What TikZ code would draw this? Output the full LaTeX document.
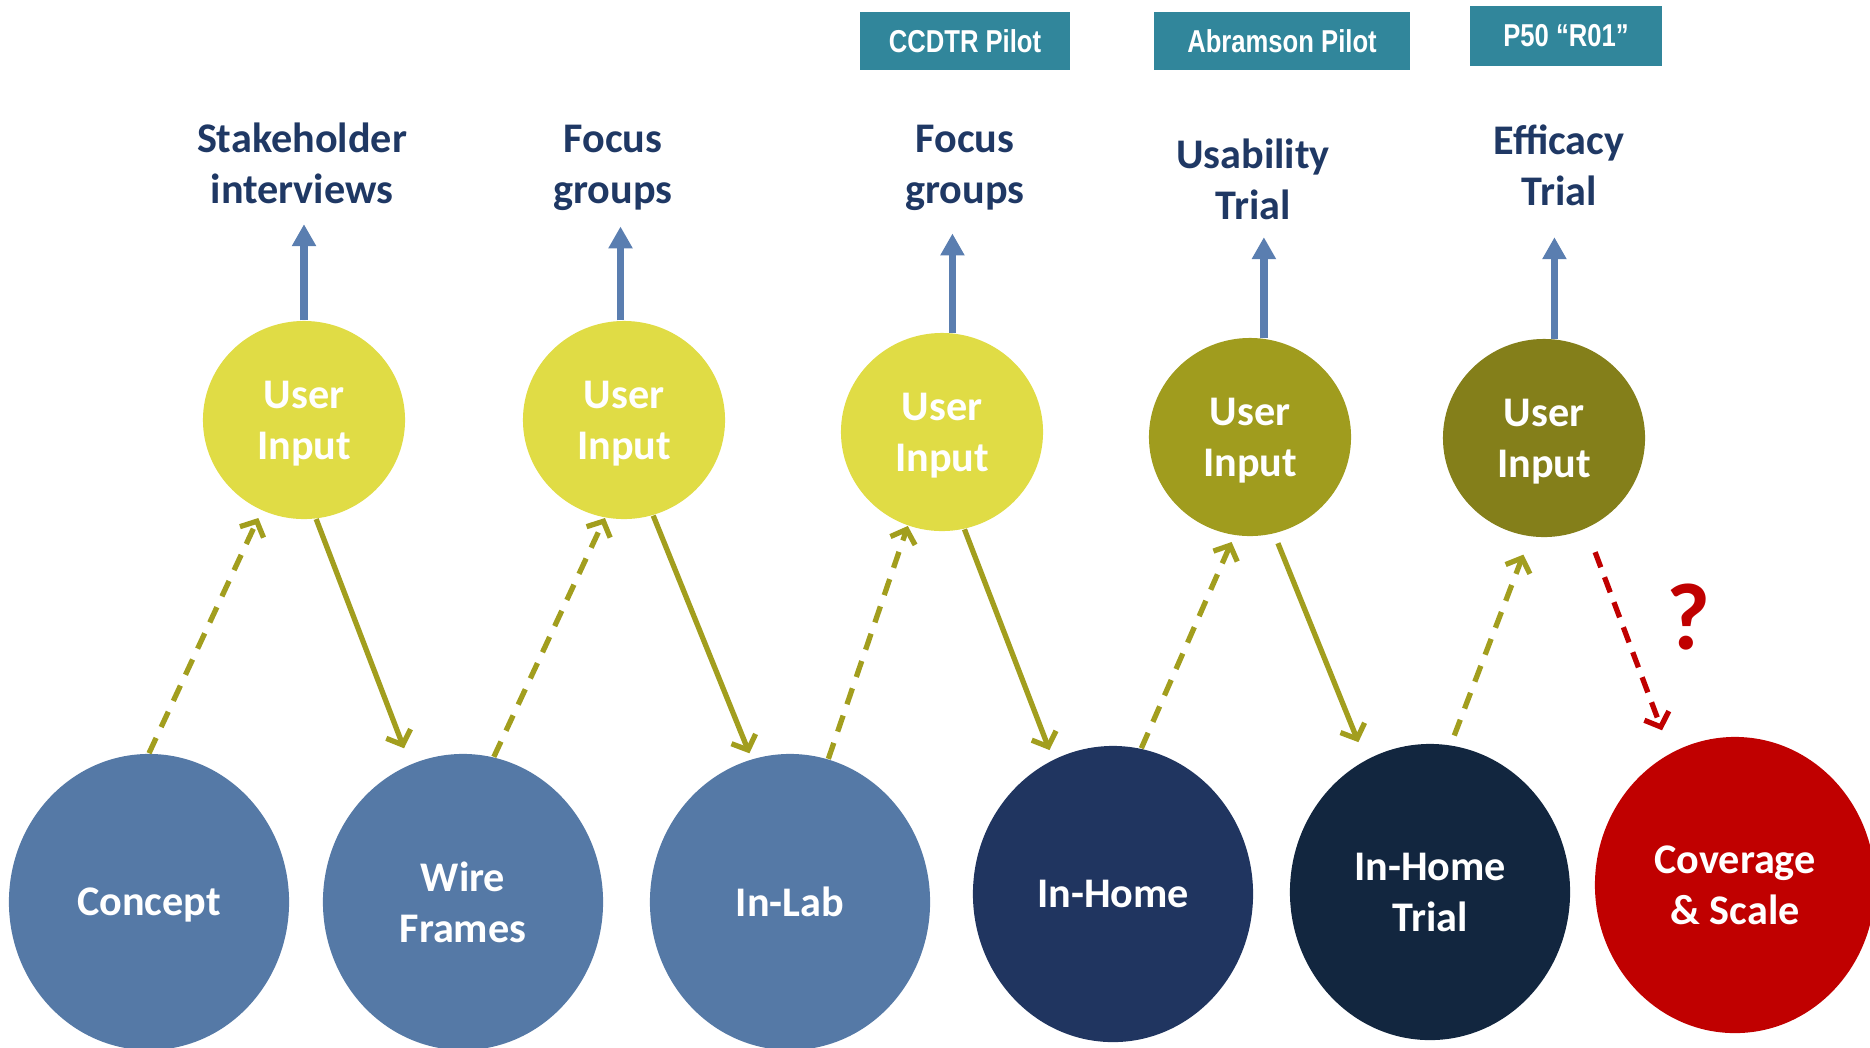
\documentclass[tikz,border=0pt]{standalone}
\usepackage{fontspec}
\setmainfont{Carlito}
\newfontfamily\tagfont{Liberation Sans}
\usepackage{graphicx}
\usepackage{xcolor}
\usetikzlibrary{shapes,arrows.meta,positioning}

\definecolor{labelblue}{HTML}{1F3864}
\definecolor{riseblue}{HTML}{5A7EB0}
\definecolor{stageblue}{HTML}{5579A6}
\definecolor{homeblue}{HTML}{203560}
\definecolor{trialblue}{HTML}{12263F}
\definecolor{scalered}{HTML}{C00000}
\definecolor{userA}{HTML}{E0DC45}
\definecolor{userB}{HTML}{A09C1E}
\definecolor{userC}{HTML}{847F1A}
\definecolor{feedolive}{HTML}{A29E1E}
\definecolor{granteal}{HTML}{31869B}

\begin{document}
\begin{tikzpicture}[x=0.01cm,y=-0.01cm,
    every node/.style={font=\fontsize{12}{14.5}\selectfont\bfseries, align=center},
    stage/.style={ellipse, minimum width=2.8cm, minimum height=2.96cm, inner sep=0pt, text=white, text depth=0pt},
    userin/.style={ellipse, minimum width=2.02cm, minimum height=1.98cm, inner sep=0pt, text=white, text depth=-0.05cm},
    method/.style={text=labelblue, inner sep=0pt},
    grant/.style={fill=granteal, text=white, minimum height=0.58cm, inner sep=0pt,
        font=\tagfont\fontsize{9}{11}\selectfont\bfseries},
    rise/.style={draw=riseblue, line width=2.2pt, -{Triangle[width=0.23cm,length=0.22cm]}},
    feed/.style={draw=feedolive, line width=1.5pt, -{Straight Barb[width=0.26cm,length=0.12cm]}},
    probe/.style={feed, dash pattern=on 4.8pt off 3.4pt},
]
\useasboundingbox (0,0) rectangle (1870,1047);

% development stages
\node[stage, fill=stageblue] (concept) at (149,902) {Concept};
\node[stage, fill=stageblue] (wire) at (463,902) {Wire\\Frames};
\node[stage, fill=stageblue] (inlab) at (790,902) {In-Lab};
\node[stage, fill=homeblue] (inhome) at (1113,894) {In-Home};
\node[stage, fill=trialblue] (hometrial) at (1430,892) {In-Home\\Trial};
\node[stage, fill=scalered] (coverage) at (1735,885) {Coverage\\\& Scale};

% user input
\node[userin, fill=userA] (ui1) at (304,420) {User\\Input};
\node[userin, fill=userA] (ui2) at (624,420) {User\\Input};
\node[userin, fill=userA] (ui3) at (942,432) {User\\Input};
\node[userin, fill=userB] (ui4) at (1250,437) {User\\Input};
\node[userin, fill=userC] (ui5) at (1544,438) {User\\Input};

% methods
\node[method] (m1) at (302,163) {Stakeholder\\interviews};
\node[method] (m2) at (613,168) {Focus\\groups};
\node[method] (m3) at (965,168) {Focus\\groups};
\node[method] (m4) at (1253,179) {Usability\\Trial};
\node[method] (m5) at (1559,165) {Efficacy\\Trial};

% funding
\node[grant, minimum width=2.1cm] (ccdtr) at (965,41) {\scalebox{0.81}[1]{CCDTR Pilot}};
\node[grant, minimum width=2.56cm] (abramson) at (1282,41) {\scalebox{0.81}[1]{Abramson Pilot}};
\node[grant, minimum width=1.91cm, minimum height=0.59cm] (ptwo) at (1566,36) {\scalebox{0.81}[1]{P50 “R01”}};

\draw[rise, shorten >=0.2cm] (ui1.north) -- (ui1.north |- m1.south);
\draw[rise, shorten >=0.15cm] (ui2.92) -- (ui2.92 |- m2.south);
\draw[rise, shorten >=0.22cm] (ui3.84) -- (ui3.84 |- m3.south);
\draw[rise, shorten >=0.17cm] (ui4.82) -- (ui4.82 |- m4.south);
\draw[rise, shorten >=0.31cm] (ui5.84) -- (ui5.84 |- m5.south);

% up: dashed, down: solid
\draw[probe, shorten >=0.08cm] (concept.north) -- (ui1.245);
\draw[probe] (wire.78) -- (ui2.259);
\draw[probe] (inlab.75) -- (ui3.250);
\draw[probe, shorten >=0.07cm] (inhome.79) -- (ui4.261);
\draw[probe, shorten <=0.1cm, shorten >=0.19cm] (hometrial.82) -- (ui5.262);

\draw[feed, shorten >=0.17cm] (ui1.277) -- (wire.111);
\draw[feed, shorten >=0.06cm] (ui2.287) -- (inlab.105);
\draw[feed, shorten >=0.1cm] (ui3.283) -- (inhome.114);
\draw[feed, shorten <=0.1cm, shorten >=0.19cm] (ui4.284) -- (hometrial.116);

\draw[feed, draw=scalered, dash pattern=on 4.6pt off 3pt, shorten <=0.25cm, shorten >=0.24cm] (ui5.295) -- (coverage.116);
\node[text=scalered, font=\fontsize{27}{30}\selectfont\bfseries] (query) at (1688,617) {?};
\end{tikzpicture}
\end{document}
